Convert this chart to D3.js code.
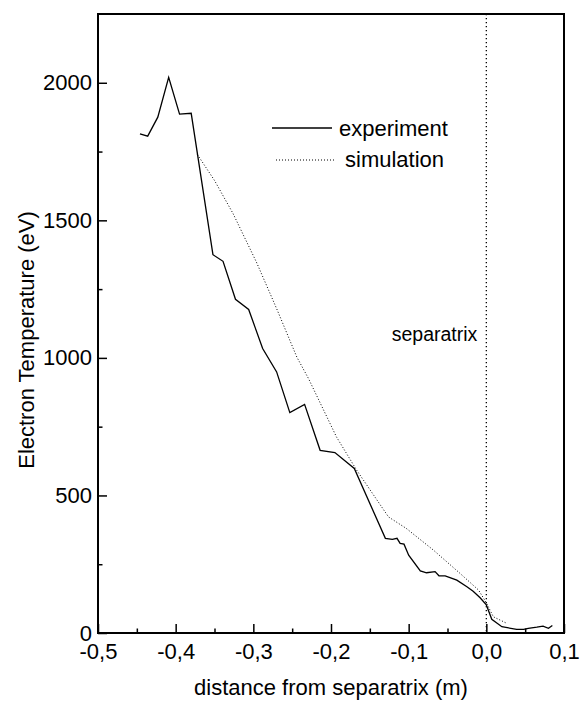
<!DOCTYPE html>
<html>
<head>
<meta charset="utf-8">
<script src="https://cdn.jsdelivr.net/npm/d3@7"></script>
<style>
  body { margin: 0; background: #fff; }
  text { font-family: "Liberation Sans", Arial, sans-serif; fill: #000; }
</style>
</head>
<body>
<div id="chart"></div>
<script>
// experiment profile
var expX = [-0.446, -0.436, -0.423, -0.409, -0.395, -0.380, -0.352, -0.339, -0.323, -0.306,
            -0.288, -0.270, -0.253, -0.234, -0.214, -0.195, -0.170, -0.130, -0.121, -0.115,
            -0.111, -0.106, -0.100, -0.085, -0.077, -0.066, -0.061, -0.053, -0.038, -0.025,
            -0.017, -0.008, 0.000, 0.007, 0.020, 0.039, 0.048, 0.054, 0.065, 0.073, 0.080, 0.085];
var expY = [1814, 1806, 1875, 2020, 1886, 1889, 1375, 1351, 1213, 1176,
            1034, 949, 801, 831, 664, 656, 598, 344, 340, 344,
            326, 323, 283, 226, 219, 223, 208, 208, 192, 168,
            152, 128, 102, 50, 23, 13, 13, 17, 21, 25, 17, 27];

// simulation profile
var simX = [-0.372, -0.350, -0.326, -0.296, -0.270, -0.244, -0.229, -0.193, -0.167, -0.126,
            -0.103, -0.068, -0.034, -0.010, 0.000, 0.009, 0.025];
var simY = [1739, 1645, 1524, 1348, 1179, 1003, 925, 713, 592, 422,
            380, 301, 217, 156, 110, 59, 37];

var xTicks = [-0.5, -0.4, -0.3, -0.2, -0.1, 0.0, 0.1];
var xMinor = [-0.45, -0.35, -0.25, -0.15, -0.05, 0.05];
var yTicks = [0, 500, 1000, 1500, 2000];
var yMinor = [250, 750, 1250, 1750];
var separatrixX = 0.0;

var W = 581, H = 705;
var margin = {top: 14, right: 17, bottom: 72, left: 98};
var width = W - margin.left - margin.right,
    height = H - margin.top - margin.bottom;

var svg = d3.select("#chart").append("svg")
    .attr("width", W)
    .attr("height", H);

var g = svg.append("g")
    .attr("transform", "translate(" + margin.left + "," + margin.top + ")");

var x = d3.scaleLinear().domain([-0.5, 0.1]).range([0, width]);
var y = d3.scaleLinear().domain([0, 2250]).range([height, 0]);

var loc = d3.formatLocale({decimal: ",", thousands: "", grouping: [3], currency: ["", ""], minus: "-"});
var fmtX = loc.format(".1f");
var fmtY = loc.format("d");

// minor ticks
g.append("g")
    .attr("transform", "translate(0," + height + ")")
    .call(d3.axisBottom(x).tickValues(xMinor).tickSize(-4.5).tickSizeOuter(0).tickFormat(""))
    .call(function(a) { a.select(".domain").remove(); });
g.append("g")
    .call(d3.axisLeft(y).tickValues(yMinor).tickSize(-4.5).tickSizeOuter(0).tickFormat(""))
    .call(function(a) { a.select(".domain").remove(); });

// major ticks
var xAxis = g.append("g")
    .attr("transform", "translate(0," + height + ")")
    .call(d3.axisBottom(x).tickValues(xTicks).tickSize(-9).tickSizeOuter(0).tickPadding(10).tickFormat(fmtX));
var yAxis = g.append("g")
    .call(d3.axisLeft(y).tickValues(yTicks).tickSize(-9).tickSizeOuter(0).tickPadding(6).tickFormat(fmtY));

g.selectAll(".tick line").attr("stroke", "#000").attr("stroke-width", 1.5);
g.selectAll(".domain").remove();
g.selectAll(".tick text").style("font-size", "22px").style("font-family", "'Liberation Sans', Arial, sans-serif");

// frame
g.append("rect")
    .attr("x", 0).attr("y", 0)
    .attr("width", width).attr("height", height)
    .attr("fill", "none")
    .attr("stroke", "#000")
    .attr("stroke-width", 2);

// separatrix line
g.append("line")
    .attr("x1", x(separatrixX)).attr("x2", x(separatrixX))
    .attr("y1", 0).attr("y2", height)
    .attr("stroke", "#000")
    .attr("stroke-width", 1.3)
    .attr("stroke-dasharray", "1.3,2.7");

g.append("text")
    .attr("x", x(separatrixX) - 9)
    .attr("y", y(1060))
    .attr("text-anchor", "end")
    .style("font-size", "19.5px")
    .text("separatrix");

var line = d3.line()
    .x(function(d) { return x(d[0]); })
    .y(function(d) { return y(d[1]); });

g.append("path")
    .datum(d3.zip(simX, simY))
    .attr("fill", "none")
    .attr("stroke", "#000")
    .attr("stroke-width", 1)
    .attr("stroke-dasharray", "1,2")
    .attr("d", line);

g.append("path")
    .datum(d3.zip(expX, expY))
    .attr("fill", "none")
    .attr("stroke", "#000")
    .attr("stroke-width", 1.3)
    .attr("d", line);

// legend
var legend = svg.append("g");
legend.append("line")
    .attr("x1", 272).attr("x2", 332).attr("y1", 128).attr("y2", 128)
    .attr("stroke", "#000").attr("stroke-width", 1.3);
legend.append("text")
    .attr("x", 339).attr("y", 136)
    .style("font-size", "22px")
    .text("experiment");
legend.append("line")
    .attr("x1", 276).attr("x2", 334).attr("y1", 160).attr("y2", 160)
    .attr("stroke", "#000").attr("stroke-width", 1).attr("stroke-dasharray", "1,2");
legend.append("text")
    .attr("x", 345).attr("y", 167)
    .style("font-size", "22px")
    .text("simulation");

// axis titles
svg.append("text")
    .attr("x", margin.left + width / 2)
    .attr("y", 695)
    .attr("text-anchor", "middle")
    .style("font-size", "22px")
    .text("distance from separatrix (m)");

svg.append("text")
    .attr("transform", "translate(34,340) rotate(-90)")
    .attr("text-anchor", "middle")
    .style("font-size", "22px")
    .text("Electron Temperature (eV)");
</script>
</body>
</html>
